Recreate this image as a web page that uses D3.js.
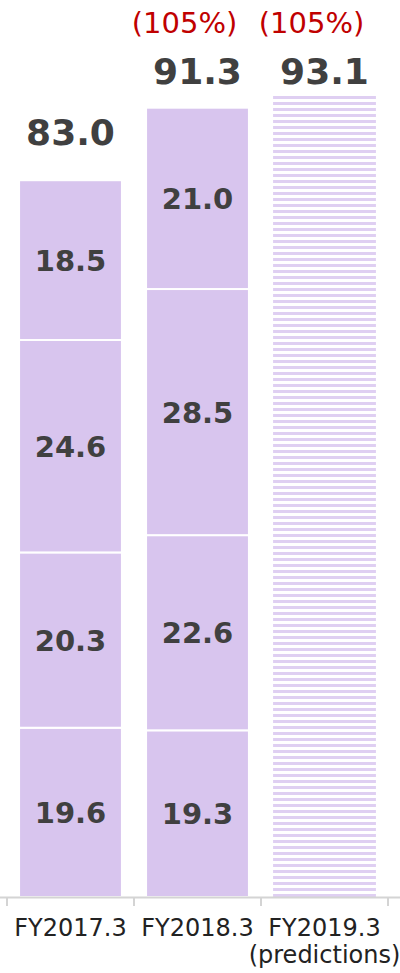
<!DOCTYPE html>
<html lang="en">
<head>
<meta charset="utf-8">
<style>
body { margin: 0; background: #fff; font-family: "DejaVu Sans", Verdana, sans-serif; }
svg { display: block; }
</style>
<script src="https://cdn.jsdelivr.net/npm/d3@7"></script>
</head>
<body>
<div id="chart"></div>
<script>

var categories = ["FY2017.3", "FY2018.3", "FY2019.3"];
var subLabels = ["", "", "(predictions)"];
// stacked segments, bottom to top (empty for the forecast)
var seg2017 = [19.6, 20.3, 24.6, 18.5];
var seg2018 = [19.3, 22.6, 28.5, 21.0];
var seg2019 = [];
var totals = [83.0, 91.3, 93.1];
var growth = ["", "(105%)", "(105%)"];

var width = 400, height = 973;
var base = 897;

var svg = d3.select("#chart").append("svg")
	.attr("width", width)
	.attr("height", height);

var defs = svg.append("defs");
var pat = defs.append("pattern")
	.attr("id", "stripes")
	.attr("patternUnits", "userSpaceOnUse")
	.attr("width", 6).attr("height", 6);
pat.append("rect").attr("width", 6).attr("height", 6).attr("fill", "#fff");
pat.append("rect").attr("y", 0).attr("width", 6).attr("height", 3).attr("fill", "#dfcff2");

var x = d3.scaleBand()
	.domain(categories)
	.range([7, 388])
	.paddingInner(0.19)
	.paddingOuter(0.095);

var y = d3.scaleLinear()
	.domain([0, 93.1])
	.range([base, 93]);

var segs = [seg2017, seg2018, seg2019];

categories.forEach(function(cat, i) {
	var g = svg.append("g");
	var x0 = x(cat), bw = x.bandwidth();
	if (segs[i].length) {
		var cum = 0;
		segs[i].forEach(function(v) {
			var y0 = y(cum), y1 = y(cum + v);
			cum += v;
			g.append("rect")
				.attr("x", x0).attr("width", bw)
				.attr("y", y1).attr("height", y0 - y1)
				.attr("fill", "#d8c5ee")
				.attr("stroke", "#fff").attr("stroke-width", 2);
			g.append("text")
				.attr("x", x0 + bw / 2)
				.attr("y", (y0 + y1) / 2)
				.attr("dy", "0.36em")
				.attr("text-anchor", "middle")
				.style("font-size", "29px")
				.style("font-weight", "bold")
				.style("fill", "#404040")
				.text(v.toFixed(1));
		});
	} else {
		g.append("rect")
			.attr("x", x0).attr("width", bw)
			.attr("y", y(totals[i])).attr("height", base - y(totals[i]))
			.attr("fill", "url(#stripes)");
	}

	g.append("text")
		.attr("x", x0 + bw / 2)
		.attr("y", Math.max(y(totals[i]) - 35, 84))
		.attr("text-anchor", "middle")
		.style("font-size", "36px")
		.style("font-weight", "bold")
		.style("fill", "#404040")
		.text(totals[i].toFixed(1));

	g.append("text")
		.attr("x", x0 + bw / 2 - 13)
		.attr("y", 33)
		.attr("text-anchor", "middle")
		.style("font-size", "29px")
		.style("fill", "#c00000")
		.text(growth[i]);

	g.append("text")
		.attr("x", x0 + bw / 2)
		.attr("y", 936)
		.attr("text-anchor", "middle")
		.style("font-size", "24px")
		.style("fill", "#222")
		.text(cat);
	g.append("text")
		.attr("x", x0 + bw / 2)
		.attr("y", 963)
		.attr("text-anchor", "middle")
		.style("font-size", "24px")
		.style("fill", "#222")
		.text(subLabels[i]);
});

// axis line and ticks at band edges
svg.append("line")
	.attr("x1", 0).attr("x2", width)
	.attr("y1", base + 0.5).attr("y2", base + 0.5)
	.attr("stroke", "#d4d4d4").attr("stroke-width", 2);

var edges = categories.map(function(c) { return x(c) - x.step() * x.paddingInner() / 2; });
edges.push(x(categories[2]) + x.bandwidth() + x.step() * x.paddingInner() / 2);
svg.selectAll(".tick").data(edges).enter().append("line")
	.attr("class", "tick")
	.attr("x1", function(d) { return d; }).attr("x2", function(d) { return d; })
	.attr("y1", base).attr("y2", base + 9)
	.attr("stroke", "#d4d4d4").attr("stroke-width", 2);

</script>
</body>
</html>
